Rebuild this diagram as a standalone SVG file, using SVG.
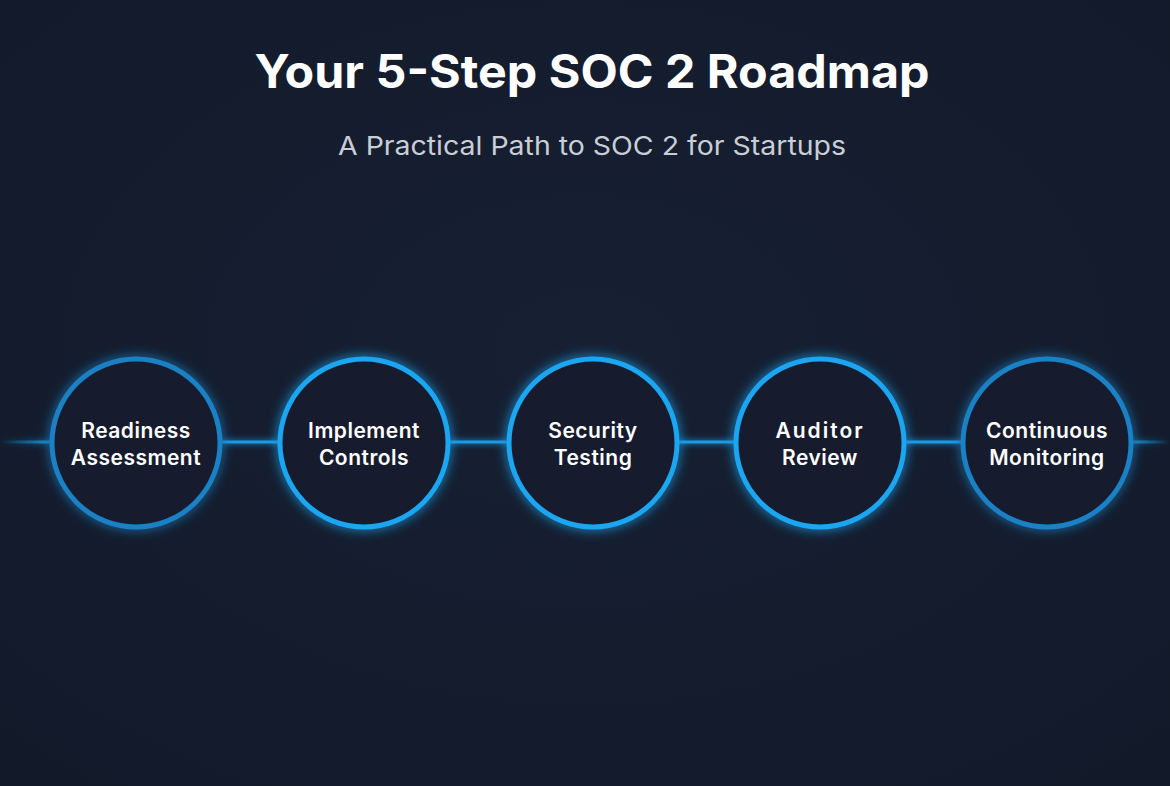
<svg xmlns="http://www.w3.org/2000/svg" width="1170" height="786" viewBox="0 0 1170 786">
<defs>
<radialGradient id="bg" cx="0.5" cy="0.45" r="0.7">
<stop offset="0" stop-color="#172033"/>
<stop offset="1" stop-color="#121a2a"/>
</radialGradient>
<linearGradient id="fadeL" x1="0" y1="0" x2="1" y2="0">
<stop offset="0" stop-color="#1a98e0" stop-opacity="0"/>
<stop offset="1" stop-color="#1a98e0" stop-opacity="0.9"/>
</linearGradient>
<linearGradient id="fadeR" x1="0" y1="0" x2="1" y2="0">
<stop offset="0" stop-color="#1a98e0" stop-opacity="0.9"/>
<stop offset="1" stop-color="#1a98e0" stop-opacity="0"/>
</linearGradient>
<filter id="glow" x="-50%" y="-50%" width="200%" height="200%">
<feGaussianBlur stdDeviation="6" result="b"/>
<feMerge><feMergeNode in="b"/><feMergeNode in="SourceGraphic"/></feMerge>
</filter>
<filter id="lglow" filterUnits="userSpaceOnUse" x="-20" y="420" width="1210" height="45">
<feGaussianBlur stdDeviation="3" result="b"/>
<feMerge><feMergeNode in="b"/><feMergeNode in="SourceGraphic"/></feMerge>
</filter>
</defs>
<style>
.title{font-family:Inter,"Liberation Sans",sans-serif;font-weight:700;font-size:46px;fill:#ffffff;text-anchor:middle}
.sub{font-family:Inter,"Liberation Sans",sans-serif;font-size:26px;fill:#c9ced6;text-anchor:middle}
.ring{fill:#141c2d;stroke-width:5;filter:url(#glow)}
.dim{stroke:#1a80c4}
.bright{stroke:#1aa6f2}
.lbl{font-family:Inter,"Liberation Sans",sans-serif;font-weight:600;font-size:21px;fill:#ffffff;text-anchor:middle;letter-spacing:0.5px}
.seg{fill:#1a9ae2}
</style>
<rect width="1170" height="786" fill="url(#bg)"/>
<text class="title" x="592" y="88" textLength="675" lengthAdjust="spacingAndGlyphs">Your 5-Step SOC 2 Roadmap</text>
<text class="sub" x="592" y="155" textLength="508" lengthAdjust="spacingAndGlyphs">A Practical Path to SOC 2 for Startups</text>
<g id="connectors" filter="url(#lglow)">
<rect x="0" y="440.5" width="54" height="3" fill="url(#fadeL)"/>
<rect class="seg" x="218" y="440.5" width="64" height="3"/>
<rect class="seg" x="446" y="440.5" width="65" height="3"/>
<rect class="seg" x="675" y="440.5" width="64" height="3"/>
<rect class="seg" x="902" y="440.5" width="64" height="3"/>
<rect x="1129" y="440.5" width="41" height="3" fill="url(#fadeR)"/>
</g>
<g id="node1">
<circle class="ring dim" cx="136" cy="443" r="84"/>
<text class="lbl" x="136" y="438">Readiness</text>
<text class="lbl" x="136" y="465">Assessment</text>
</g>
<g id="node2">
<circle class="ring bright" cx="364" cy="443" r="84"/>
<text class="lbl" x="364" y="438">Implement</text>
<text class="lbl" x="364" y="465">Controls</text>
</g>
<g id="node3">
<circle class="ring bright" cx="593" cy="443" r="84"/>
<text class="lbl" x="593" y="438">Security</text>
<text class="lbl" x="593" y="465">Testing</text>
</g>
<g id="node4">
<circle class="ring bright" cx="820" cy="443" r="84"/>
<text class="lbl" x="820" y="438" style="letter-spacing:2px">Auditor</text>
<text class="lbl" x="820" y="465">Review</text>
</g>
<g id="node5">
<circle class="ring dim" cx="1047" cy="443" r="84"/>
<text class="lbl" x="1047" y="438">Continuous</text>
<text class="lbl" x="1047" y="465">Monitoring</text>
</g>
</svg>
